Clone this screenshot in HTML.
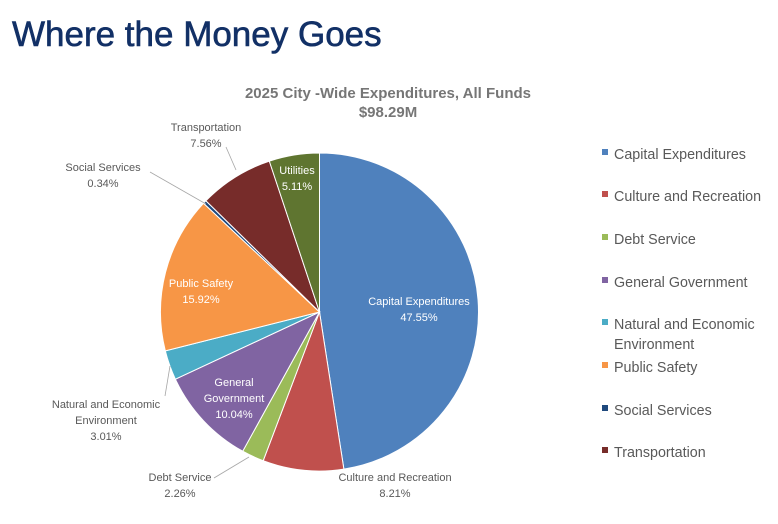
<!DOCTYPE html>
<html><head><meta charset="utf-8"><style>
body{margin:0;width:778px;height:519px;background:#fff;overflow:hidden;font-family:"Liberation Sans",sans-serif}
</style></head><body>
<svg id="s" width="778" height="519" xmlns="http://www.w3.org/2000/svg" font-family="Liberation Sans, sans-serif">
<text x="12" y="46" font-size="35" fill="#123066" stroke="#123066" stroke-width="0.6">Where the Money Goes</text>
<text x="388" y="98" font-size="15" font-weight="bold" fill="#767676" text-anchor="middle">2025 City  -Wide Expenditures, All Funds</text>
<text x="388" y="117" font-size="15" font-weight="bold" fill="#767676" text-anchor="middle">$98.29M</text>
<g id="pie"></g>
<g font-size="11" fill="#595959" text-anchor="middle">
<text x="206" y="131">Transportation</text><text x="206" y="147">7.56%</text>
<text x="103" y="171">Social Services</text><text x="103" y="187">0.34%</text>
<text x="106" y="408">Natural and Economic</text><text x="106" y="424">Environment</text><text x="106" y="440">3.01%</text>
<text x="180" y="481">Debt Service</text><text x="180" y="497">2.26%</text>
<text x="395" y="481">Culture and Recreation</text><text x="395" y="497">8.21%</text>
</g>
<g font-size="11" fill="#fff" text-anchor="middle">
<text x="419" y="305">Capital Expenditures</text><text x="419" y="321">47.55%</text>
<text x="234" y="386">General</text><text x="234" y="402">Government</text><text x="234" y="418">10.04%</text>
<text x="201" y="287">Public Safety</text><text x="201" y="303">15.92%</text>
<text x="297" y="174">Utilities</text><text x="297" y="190">5.11%</text>
</g>
<g stroke="#a6a6a6" stroke-width="0.8" fill="none">
<line x1="150" y1="172" x2="206" y2="204"/>
<line x1="226" y1="147" x2="236" y2="170"/>
<line x1="165" y1="396" x2="170" y2="366"/>
<line x1="214" y1="478" x2="249" y2="457"/>
</g>
<g font-size="14.3" fill="#595959" id="leg"></g>
</svg>
<script>
var d=[[47.55,"#4F81BD"],[8.21,"#C0504D"],[2.26,"#9BBB59"],[10.04,"#8064A2"],[3.01,"#4BACC6"],[15.92,"#F79646"],[0.34,"#1F497D"],[7.56,"#772C2A"],[5.11,"#5F7530"]];
var cx=319.5,cy=312,r=159,a=0,h="";
d.forEach(function(e){var a1=a+e[0]/100*2*Math.PI;
var x0=cx+r*Math.sin(a),y0=cy-r*Math.cos(a),x1=cx+r*Math.sin(a1),y1=cy-r*Math.cos(a1);
h+='<path d="M'+cx+','+cy+'L'+x0+','+y0+'A'+r+','+r+' 0 '+(a1-a>Math.PI?1:0)+' 1 '+x1+','+y1+'Z" fill="'+e[1]+'" stroke="#fff" stroke-width="1"/>';a=a1;});
document.getElementById("pie").innerHTML=h;
var L=[["Capital Expenditures",154],["Culture and Recreation",196],["Debt Service",239],["General Government",282],["Natural and Economic",324],["Public Safety",367],["Social Services",410],["Transportation",452]];
var g="";L.forEach(function(l,i){var c=d[i][1];g+='<rect x="602" y="'+(l[1]-5)+'" width="6" height="6" fill="'+c+'"/><text x="614" y="'+(l[1]+5)+'">'+l[0]+'</text>';});
g+='<text x="614" y="349">Environment</text>';
document.getElementById("leg").innerHTML=g;
</script>
</body></html>
